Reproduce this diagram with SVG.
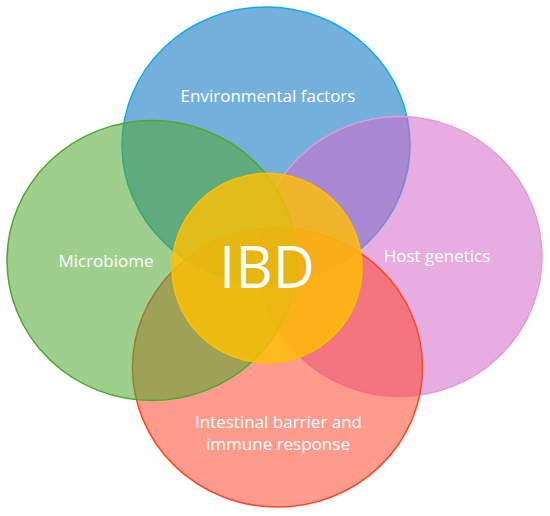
<svg xmlns="http://www.w3.org/2000/svg" width="550" height="516" viewBox="0 0 550 516">
  <style>
    .set { fill-opacity: 0.55; stroke-width: 1.5; }
    .lbl { font-family: "Open Sans", "Liberation Sans", sans-serif; font-size: 17px; fill: #ffffff; text-anchor: middle; }
    .core { font-family: "Open Sans", "Liberation Sans", sans-serif; font-size: 58px; fill: #ffffff; text-anchor: middle; }
  </style>
  <rect width="550" height="516" fill="#ffffff"/>
  <g id="environmental">
    <ellipse class="set" cx="266" cy="145" rx="144" ry="138" fill="#0070C0" stroke="#12A9EC"/>
    <text class="lbl" x="268" y="102">Environmental factors</text>
  </g>
  <g id="host-genetics">
    <ellipse class="set" cx="399.5" cy="256.5" rx="142.5" ry="140" fill="#D368C7" stroke="#E39ADB"/>
    <text class="lbl" x="437" y="262">Host genetics</text>
  </g>
  <g id="intestinal-barrier">
    <ellipse class="set" cx="277.5" cy="367.5" rx="145" ry="139.5" fill="#FF4830" stroke="#FF4525"/>
    <text class="lbl" x="278.5" y="428">Intestinal barrier and</text>
    <text class="lbl" x="278" y="450">immune response</text>
  </g>
  <g id="microbiome">
    <ellipse class="set" cx="152" cy="260.5" rx="145" ry="140" fill="#4EA72E" stroke="#4EA72E"/>
    <text class="lbl" x="106" y="266.5">Microbiome</text>
  </g>
  <g id="ibd">
    <ellipse cx="267" cy="268" rx="95" ry="94.7" fill="#FFC000" fill-opacity="0.8" stroke="#FFC000" stroke-width="1.5"/>
    <text class="core" x="267" y="288">IBD</text>
  </g>
  <g id="connectors"/>
</svg>
